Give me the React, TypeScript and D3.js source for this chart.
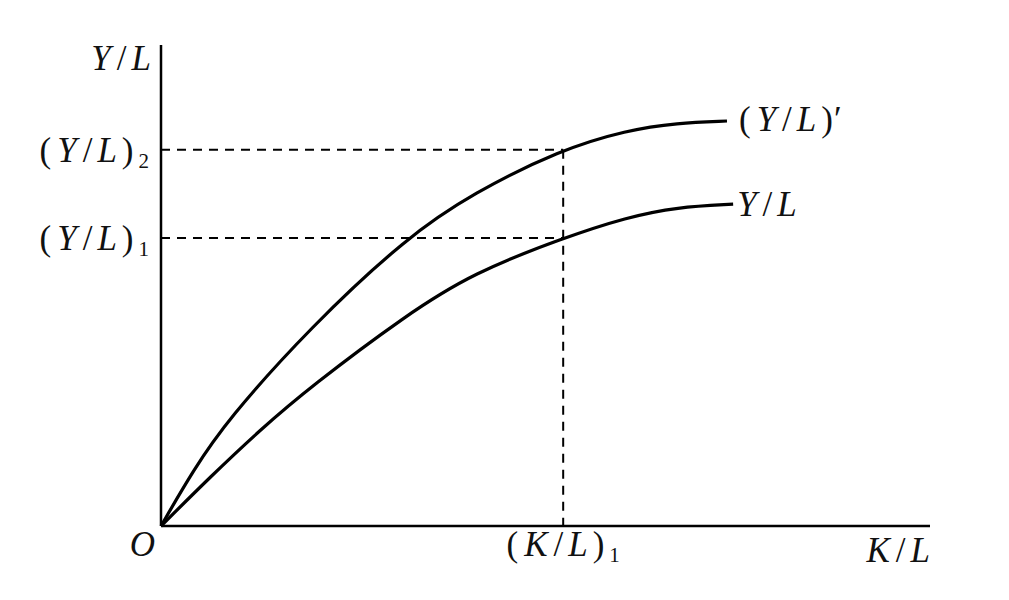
import React, { useEffect, useRef } from "react";
import * as d3 from "d3";

// curve values (x: K/L, y: Y/L, both 0..100)
const upperX = [0, 4.2, 8.6, 19.4, 32.0, 40.6, 51.9, 60.6, 67.1, 73.6];
const upperY = [0, 11.6, 22.0, 41.3, 60.1, 69.2, 78.2, 82.3, 83.8, 84.2];
const lowerX = [0, 6.4, 12.9, 19.4, 32.0, 40.6, 52.3, 60.6, 67.1, 74.4];
const lowerY = [0, 10.2, 20.0, 28.9, 44.0, 52.6, 59.9, 64.2, 66.3, 66.9];

const kl1 = 52.3;
const yl1 = 59.9;
const yl2 = 78.2;

const W = 1009;
const H = 600;
const FONT = "'Liberation Serif', 'DejaVu Serif', serif";
const FS = 35;

type Part = { t: string; italic?: boolean; sub?: boolean; dx?: number };

// label pieces: letters italic, brackets and slash upright
const labelYL: Part[] = [{ t: "Y", italic: true }, { t: "/", dx: 6 }, { t: "L", italic: true, dx: 5 }];
const labelYL2: Part[] = [{ t: "(" }, { t: "Y", italic: true, dx: 6 }, { t: "/", dx: 6 }, { t: "L", italic: true, dx: 5 }, { t: ")", dx: 5 }, { t: "2", sub: true, dx: 5 }];
const labelYL1: Part[] = [{ t: "(" }, { t: "Y", italic: true, dx: 6 }, { t: "/", dx: 6 }, { t: "L", italic: true, dx: 5 }, { t: ")", dx: 5 }, { t: "1", sub: true, dx: 5 }];
const labelYLp: Part[] = [{ t: "(" }, { t: "Y", italic: true, dx: 6 }, { t: "/", dx: 6 }, { t: "L", italic: true, dx: 5 }, { t: ")", dx: 5 }, { t: "\u2032", dx: 1 }];
const labelKL: Part[] = [{ t: "K", italic: true }, { t: "/", dx: 6 }, { t: "L", italic: true, dx: 5 }];
const labelKL1: Part[] = [{ t: "(" }, { t: "K", italic: true, dx: 6 }, { t: "/", dx: 6 }, { t: "L", italic: true, dx: 5 }, { t: ")", dx: 5 }, { t: "1", sub: true, dx: 5 }];

export default function App() {
  const ref = useRef<SVGSVGElement>(null);

  useEffect(() => {
    const svg = d3.select(ref.current);
    svg.selectAll("*").remove();

    const x = d3.scaleLinear().domain([0, 100]).range([161, 930]);
    const y = d3.scaleLinear().domain([0, 100]).range([526, 45]);

    const line = d3
      .line<[number, number]>()
      .x((d) => x(d[0]))
      .y((d) => y(d[1]))
      .curve(d3.curveBasis);

    // dashed guides
    const dash = svg.append("g").attr("stroke", "#000").attr("stroke-width", 2).attr("stroke-dasharray", "9,7").attr("fill", "none");
    dash.append("line").attr("x1", x(0)).attr("x2", x(kl1)).attr("y1", y(yl2)).attr("y2", y(yl2));
    dash.append("line").attr("x1", x(0)).attr("x2", x(kl1)).attr("y1", y(yl1)).attr("y2", y(yl1));
    dash.append("line").attr("x1", x(kl1)).attr("x2", x(kl1)).attr("y1", y(yl2)).attr("y2", y(0));

    // axes
    svg.append("line").attr("x1", x(0)).attr("x2", x(0)).attr("y1", y(0)).attr("y2", y(100)).attr("stroke", "#000").attr("stroke-width", 2.5);
    svg.append("line").attr("x1", x(0)).attr("x2", x(100)).attr("y1", y(0)).attr("y2", y(0)).attr("stroke", "#000").attr("stroke-width", 2.5);

    // curves
    const upper = upperX.map((v, i) => [v, upperY[i]] as [number, number]);
    const lower = lowerX.map((v, i) => [v, lowerY[i]] as [number, number]);
    svg.append("path").attr("d", line(upper)).attr("fill", "none").attr("stroke", "#000").attr("stroke-width", 3.2);
    svg.append("path").attr("d", line(lower)).attr("fill", "none").attr("stroke", "#000").attr("stroke-width", 3.2);

    const label = (parts: Part[], px: number, py: number, anchor: string) => {
      const t = svg
        .append("text")
        .attr("x", px)
        .attr("y", py)
        .attr("text-anchor", anchor)
        .attr("font-family", FONT)
        .attr("font-size", FS)
        .attr("fill", "#111");
      parts.forEach((p) => {
        const s = t.append("tspan").text(p.t);
        if (p.italic) s.attr("font-style", "italic");
        if (p.dx) s.attr("dx", p.dx);
        if (p.sub) s.attr("font-size", 21).attr("dy", 6);
      });
    };

    label(labelYL, x(0) - 10, y(100) + 25, "end");
    label(labelYL2, x(0) - 12, y(yl2) + 12, "end");
    label(labelYL1, x(0) - 12, y(yl1) + 12, "end");
    label(labelYLp, x(upperX[upperX.length - 1]) + 12, y(upperY[upperY.length - 1]) + 10, "start");
    label(labelYL, x(lowerX[lowerX.length - 1]) + 4, y(lowerY[lowerY.length - 1]) + 12, "start");
    svg
      .append("text")
      .attr("x", x(0) - 6)
      .attr("y", y(0) + 30)
      .attr("text-anchor", "end")
      .attr("font-family", FONT)
      .attr("font-style", "italic")
      .attr("font-size", FS)
      .attr("fill", "#111")
      .text("O");
    label(labelKL1, x(kl1), y(0) + 30, "middle");
    label(labelKL, x(100), y(0) + 36, "end");
  }, []);

  return (
    <svg
      ref={ref}
      width={W}
      height={H}
      style={{ position: "absolute", left: 0, top: 0, background: "#fff" }}
    />
  );
}
